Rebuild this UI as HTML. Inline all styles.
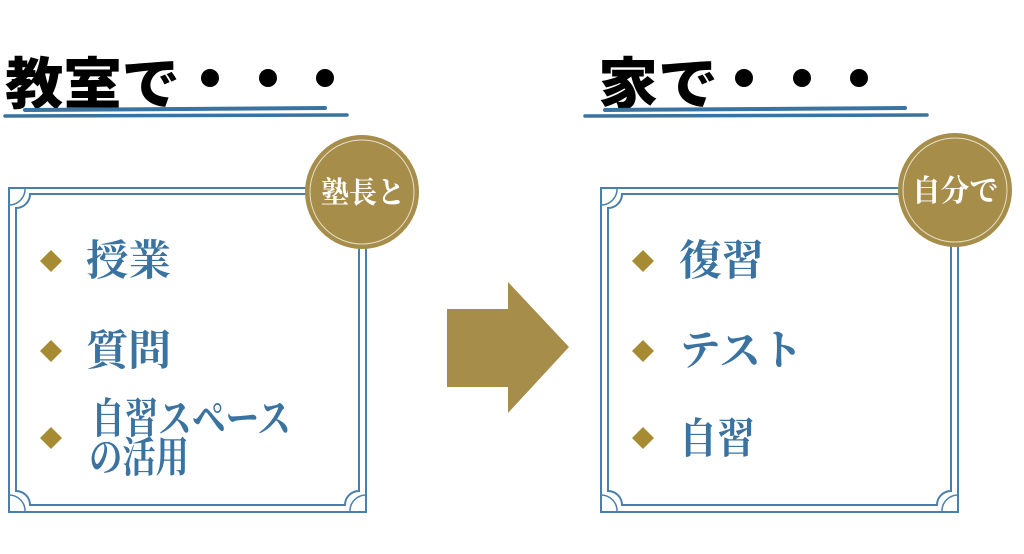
<!DOCTYPE html>
<html><head><meta charset="utf-8"><style>
html,body{margin:0;padding:0;background:#fff;}
svg{display:block}
.t{font-family:"Liberation Sans","Noto Sans CJK JP",sans-serif;font-weight:900;font-size:56px;fill:#000}
.i{font-family:"Liberation Serif","Noto Serif CJK SC",serif;font-weight:700;font-size:42px;fill:#3a72a0}
.c{font-family:"Liberation Serif","Noto Serif CJK SC",serif;font-weight:700;font-size:30px;fill:#fff}
</style></head><body>
<svg width="1024" height="554" viewBox="0 0 1024 554" xmlns="http://www.w3.org/2000/svg">
<text class="t" x="5" y="104" textLength="175" lengthAdjust="spacingAndGlyphs">教室で</text>
<circle cx="210" cy="78" r="9"/><circle cx="268" cy="78" r="9"/><circle cx="325" cy="78" r="9"/>
<text class="t" x="598" y="104" textLength="120" lengthAdjust="spacingAndGlyphs">家で</text>
<circle cx="744" cy="78" r="9"/><circle cx="802" cy="78" r="9"/><circle cx="859" cy="78" r="9"/>
<g stroke="#3a72a0" stroke-linecap="round" fill="none">
<path d="M25 110 L325 108" stroke-width="4"/>
<path d="M5 116 L347 115" stroke-width="3.5"/>
<path d="M605 110 L905 108" stroke-width="4"/>
<path d="M585 116 L927 115" stroke-width="3.5"/>
</g>
<g fill="none" stroke="#4a7fab">
<rect x="9" y="188" width="357" height="324" stroke-width="2"/>
<path d="M30 194 H345 A14 14 0 0 0 359 208 V491 A14 14 0 0 0 345 505 H30 A14 14 0 0 0 16 491 V208 A14 14 0 0 0 30 194 Z" stroke-width="2"/>
<path d="M9 205 A16 16 0 0 0 25 188 M9 495 A16 16 0 0 1 25 512 M366 495 A16 16 0 0 0 350 512" stroke-width="1.5"/>
<rect x="601" y="188" width="357" height="324" stroke-width="2"/>
<path d="M622 194 H937 A14 14 0 0 0 951 208 V491 A14 14 0 0 0 937 505 H622 A14 14 0 0 0 608 491 V208 A14 14 0 0 0 622 194 Z" stroke-width="2"/>
<path d="M601 205 A16 16 0 0 0 617 188 M601 495 A16 16 0 0 1 617 512 M958 495 A16 16 0 0 0 942 512" stroke-width="1.5"/>
</g>
<circle cx="362" cy="192" r="57" fill="#a68d4a"/>
<circle cx="362" cy="192" r="52" fill="none" stroke="#e8dfc8" stroke-width="1"/>
<text class="c" x="321" y="203" textLength="84" lengthAdjust="spacingAndGlyphs">塾長と</text>
<circle cx="955" cy="190" r="57" fill="#a68d4a"/>
<circle cx="955" cy="190" r="52" fill="none" stroke="#e8dfc8" stroke-width="1"/>
<text class="c" x="912" y="201" textLength="86" lengthAdjust="spacingAndGlyphs">自分で</text>
<polygon points="447,309 508,309 508,282 569,347 508,413 508,387 447,387" fill="#a68d4a"/>
<g fill="#a68b33">
<polygon points="51,250 62,261 51,272 40,261"/>
<polygon points="51,340 62,351 51,362 40,351"/>
<polygon points="51,427 62,438 51,449 40,438"/>
<polygon points="643,250 654,261 643,272 632,261"/>
<polygon points="643,340 654,351 643,362 632,351"/>
<polygon points="643,427 654,438 643,449 632,438"/>
</g>
<text class="i" x="86" y="275" textLength="85" lengthAdjust="spacingAndGlyphs">授業</text>
<text class="i" x="86" y="365" textLength="85" lengthAdjust="spacingAndGlyphs">質問</text>
<text class="i" x="91" y="433" font-size="33" textLength="200" lengthAdjust="spacingAndGlyphs">自習スペース</text>
<text class="i" x="89" y="472" font-size="33" textLength="100" lengthAdjust="spacingAndGlyphs">の活用</text>
<text class="i" x="679" y="275" textLength="85" lengthAdjust="spacingAndGlyphs">復習</text>
<text class="i" x="679" y="365" textLength="124" lengthAdjust="spacingAndGlyphs">テスト</text>
<text class="i" x="679" y="453" textLength="76" lengthAdjust="spacingAndGlyphs">自習</text>
</svg>
</body></html>
